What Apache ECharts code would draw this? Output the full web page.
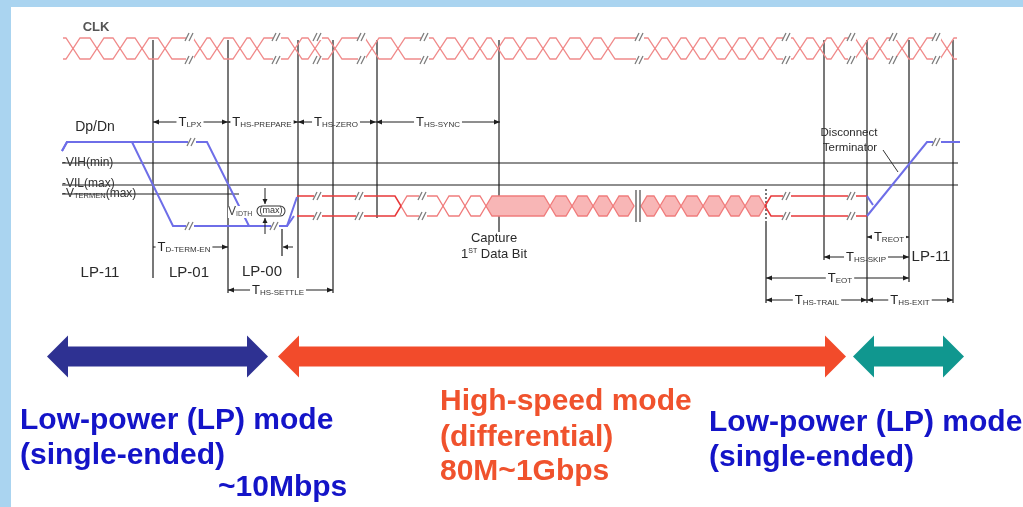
<!DOCTYPE html>
<html><head><meta charset="utf-8">
<script src="https://cdn.jsdelivr.net/npm/echarts@6/dist/echarts.min.js"></script>
<style>html,body{margin:0;padding:0;background:#aad4f0;overflow:hidden}#c{width:1023px;height:507px}</style>
</head><body><div id="c"></div>
<script>
// ---------------- data (diagram coordinates) ----------------
const W = 1023, H = 507;
const panel = [[11, 7, 1023, 507]];
// CLK eye pattern
const clkLevels = [38, 59];
const clkSpan = [63, 957];
const clkCrossings = [73, 97, 120, 142, 165, 200, 217, 240, 257, 295, 315, 335, 372, 398, 440, 462, 480, 498, 520, 543, 563, 587, 608, 655, 674, 693, 712, 732, 752, 770, 800, 820, 838, 862, 880, 902, 920, 947];
const clkBreaks = [190, 277, 318, 362, 425, 640, 787, 852, 894, 937];
// threshold lines [x1, x2, y]
const levels = [[62, 958, 163], [62, 958, 185], [62, 239, 194]];
const levelLabels = [[62, 163, '-VIH(min)', '', ''], [62, 184, '-VIL(max)', '', ''], [62, 194, '-V', 'TERMEN', '(max)']];
// vertical marker lines [x, y1, y2]
const vLines = [[153, 40, 278], [228, 40, 293], [298, 40, 278], [333, 40, 293], [377, 40, 218], [499, 40, 232], [824, 40, 260], [867, 40, 303], [909, 40, 282], [953, 40, 303], [766, 222, 303], [282, 229, 256]];
const vDotted = [[766, 189, 222]];
// HS differential lines
const hsLevels = [196, 216];
const hsSolid = [
  [[297, 196], [395, 196], [401, 206]],
  [[297, 216], [395, 216], [401, 206]],
  [[765, 206], [771, 196], [867, 196]],
  [[765, 206], [771, 216], [867, 216]]
];
const hsOpenEyes = [[401, 443], [443, 465], [465, 486]];
const hsFilledEyes = [[486, 550], [550, 572], [572, 593], [593, 613], [613, 634], [641, 660], [660, 681], [681, 703], [703, 725], [725, 745], [745, 765]];
const hsGap = [[636, 190, 222], [640, 190, 222]];
// Dp/Dn single-ended paths
const dpdn = [
  [[62, 151], [67, 142], [132, 142], [173, 226], [287, 226], [297, 197]],
  [[62, 151], [67, 142], [207, 142], [249, 226], [287, 226], [294, 216]],
  [[867, 196], [873, 205]],
  [[867, 216], [927, 142], [960, 142]]
];
// "//" break marks [x, y]
const breakMarks = [
  [192, 142], [190, 226], [275, 226], [937, 142],
  [318, 196], [318, 216], [360, 196], [360, 216], [423, 196], [423, 216],
  [787, 196], [787, 216], [852, 196], [852, 216]
];
// timing dimensions [x1, x2, y, labelX, subscript]
const timings = [
  [153, 228, 122, 190, 'LPX'],
  [228, 298, 122, 262, 'HS-PREPARE'],
  [298, 376, 122, 336, 'HS-ZERO'],
  [376, 500, 122, 438, 'HS-SYNC'],
  [153, 228, 247, 184, 'D-TERM-EN'],
  [228, 333, 290, 278, 'HS-SETTLE'],
  [867, 909, 237, 889, 'REOT'],
  [824, 909, 257, 866, 'HS-SKIP'],
  [766, 909, 278, 840, 'EOT'],
  [766, 867, 300, 817, 'HS-TRAIL'],
  [867, 953, 300, 910, 'HS-EXIT']
];
const oneSidedTimings = ['D-TERM-EN'];
const smallArrows = [[265, 188, 204], [265, 234, 218], [293, 247, 283]];
// labels [text, x, y]
const diagramLabels = [['CLK', 96, 27], ['Dp/Dn', 95, 127], ['LP-11', 100, 273], ['LP-01', 189, 273], ['LP-00', 262, 272], ['LP-11', 931, 257], ['Capture', 494, 238], ['Disconnect', 849, 133], ['Terminator', 850, 148]];
const captureLabel = [[494, 254, '1', 'ST', ' Data Bit']];
const vidthLabel = [[228, 212, 'V', 'IDTH', '(max)', 271]];
const leader = [[[883, 150], [898, 172]]];
// mode arrows [x1, x2, y]
const modeArrows = [[47, 268, 356.5], [278, 846, 356.5], [853, 964, 356.5]];
// mode text [text, x, baseline, group]
const modeText = [
  ['Low-power (LP) mode', 20, 430, 0], ['(single-ended)', 20, 465, 0], ['~10Mbps', 218, 497, 0],
  ['High-speed mode', 440, 411, 1], ['(differential)', 440, 447, 1], ['80M~1Gbps', 440, 481, 1],
  ['Low-power (LP) mode', 709, 432, 2], ['(single-ended)', 709, 467, 2]
];

// ---------------- styles ----------------
const FONT = "'Liberation Sans', Arial, sans-serif";
const modeColors = ['#2e3192', '#f24b2b', '#10978f'];
const modeTextColors = ['#1414c8', '#f0522d', '#1414c8'];
const C_LINE = '#1e1e1e', C_BLUE = '#6e6ee8', C_CLK = '#f08a8a', C_HS = '#e8383a', C_EYE = '#f07c7c', C_FILL = '#f8b6b6', C_BRK = '#7a7a7a';

// ---------------- helpers ----------------
function eyeLines(cr, x0, x1, top, bot, h) {
  const mid = (top + bot) / 2, up = [[x0, top]], lo = [[x0, bot]];
  cr.forEach(c => { up.push([c - h, top], [c, mid], [c + h, top]); lo.push([c - h, bot], [c, mid], [c + h, bot]); });
  up.push([x1, top]); lo.push([x1, bot]);
  return [up, lo];
}
function hexPts(x1, x2, top, bot, h) {
  const mid = (top + bot) / 2;
  return [[x1, mid], [x1 + h, top], [x2 - h, top], [x2, mid], [x2 - h, bot], [x1 + h, bot]];
}
const clkPaths = eyeLines(clkCrossings, clkSpan[0], clkSpan[1], clkLevels[0], clkLevels[1], 7);
const clkBreakMarks = [];
clkBreaks.forEach(b => { clkBreakMarks.push([b, clkLevels[0] - 1]); clkBreakMarks.push([b, clkLevels[1] + 1]); });

function layer(arr, z, key, draw) {
  return {
    type: 'custom', coordinateSystem: 'cartesian2d', clip: false, silent: true, z: z,
    data: arr.map(key),
    renderItem: (params, api) => draw(arr[params.dataIndex], api)
  };
}
const first = d => [d[0], d[1]];
const firstPt = d => d[0];
const poly = (pts, api, stroke, lw, dash) => ({ type: 'polyline', shape: { points: pts.map(p => api.coord(p)) }, style: { stroke: stroke, lineWidth: lw, fill: null, lineDash: dash || null } });
const txt = (x, y, style) => ({ type: 'text', x: x, y: y, style: style });

const series = [
  layer(panel, 0, first, (d, api) => { const a = api.coord([d[0], d[1]]), b = api.coord([d[2], d[3]]); return { type: 'rect', shape: { x: a[0], y: a[1], width: b[0] - a[0], height: b[1] - a[1] }, style: { fill: '#ffffff' } }; }),
  layer(levels, 1, first, (d, api) => poly([[d[0], d[2]], [d[1], d[2]]], api, C_LINE, 1.1)),
  layer(levelLabels, 2, first, (d, api) => { const p = api.coord([d[0], d[1]]); return txt(p[0], p[1], { text: '{n|' + d[2] + '}' + (d[3] ? '{s|' + d[3] + '}{n|' + d[4] + '}' : ''), rich: { n: { font: '12px ' + FONT, fill: '#333', verticalAlign: 'bottom' }, s: { font: '7.5px ' + FONT, fill: '#333', verticalAlign: 'bottom' } }, align: 'left', verticalAlign: 'middle' }); }),
  layer(timings, 3, first, (d, api) => {
    const a = api.coord([d[0], d[2]]), b = api.coord([d[1], d[2]]), t = api.coord([d[3], d[2]]), y = a[1];
    const kids = [
      { type: 'line', shape: { x1: a[0], y1: y, x2: b[0], y2: y }, style: { stroke: C_LINE, lineWidth: 1 } },
      { type: 'polygon', shape: { points: [[b[0], y], [b[0] - 6, y - 2.5], [b[0] - 6, y + 2.5]] }, style: { fill: C_LINE } },
      txt(t[0], y, { text: '{t|T}{s|' + d[4] + '}', rich: { t: { font: '13px ' + FONT, fill: '#222', verticalAlign: 'bottom' }, s: { font: '8px ' + FONT, fill: '#333', verticalAlign: 'bottom' } }, align: 'center', verticalAlign: 'middle', backgroundColor: '#fff', padding: [0, 2] })
    ];
    if (oneSidedTimings.indexOf(d[4]) < 0) kids.splice(1, 0, { type: 'polygon', shape: { points: [[a[0], y], [a[0] + 6, y - 2.5], [a[0] + 6, y + 2.5]] }, style: { fill: C_LINE } });
    return { type: 'group', children: kids };
  }),
  layer(vLines, 4, first, (d, api) => poly([[d[0], d[1]], [d[0], d[2]]], api, C_LINE, 1.2)),
  layer(vDotted, 4, first, (d, api) => poly([[d[0], d[1]], [d[0], d[2]]], api, C_LINE, 1.2, [2, 2])),
  layer(clkPaths, 5, firstPt, (d, api) => poly(d, api, C_CLK, 1.3)),
  layer(hsFilledEyes, 5, first, (d, api) => ({ type: 'polygon', shape: { points: hexPts(d[0], d[1], hsLevels[0], hsLevels[1], 6).map(p => api.coord(p)) }, style: { fill: C_FILL, stroke: C_EYE, lineWidth: 1.3 } })),
  layer(hsOpenEyes, 5, first, (d, api) => ({ type: 'polygon', shape: { points: hexPts(d[0], d[1], hsLevels[0], hsLevels[1], 6).map(p => api.coord(p)) }, style: { fill: null, stroke: C_EYE, lineWidth: 1.3 } })),
  layer(hsSolid, 5, firstPt, (d, api) => poly(d, api, C_HS, 1.5)),
  layer(dpdn, 6, firstPt, (d, api) => poly(d, api, C_BLUE, 2)),
  layer(hsGap, 7, first, (d, api) => poly([[d[0], d[1]], [d[0], d[2]]], api, '#555', 1.3)),
  layer(breakMarks.concat(clkBreakMarks), 7, first, (d, api) => {
    const c = api.coord([d[0], d[1]]);
    return { type: 'group', children: [
      { type: 'rect', shape: { x: c[0] - 4, y: c[1] - 3, width: 8, height: 6 }, style: { fill: '#fff' } },
      { type: 'line', shape: { x1: c[0] - 5, y1: c[1] + 4, x2: c[0] - 1, y2: c[1] - 4 }, style: { stroke: C_BRK, lineWidth: 1.2 } },
      { type: 'line', shape: { x1: c[0] - 1, y1: c[1] + 4, x2: c[0] + 3, y2: c[1] - 4 }, style: { stroke: C_BRK, lineWidth: 1.2 } }
    ] };
  }),
  layer(smallArrows, 8, first, (d, api) => {
    const vertical = d[0] === 265;
    const a = api.coord([d[0], d[1]]);
    const b = vertical ? api.coord([d[0], d[2]]) : api.coord([d[2], d[1]]);
    const dx = Math.sign(b[0] - a[0]), dy = Math.sign(b[1] - a[1]);
    const head = dx ? [[b[0], b[1]], [b[0] - dx * 5, b[1] - 2.5], [b[0] - dx * 5, b[1] + 2.5]] : [[b[0], b[1]], [b[0] - 2.5, b[1] - dy * 5], [b[0] + 2.5, b[1] - dy * 5]];
    return { type: 'group', children: [
      { type: 'line', shape: { x1: a[0], y1: a[1], x2: b[0], y2: b[1] }, style: { stroke: C_LINE, lineWidth: 1 } },
      { type: 'polygon', shape: { points: head }, style: { fill: C_LINE } }
    ] };
  }),
  layer(leader, 8, firstPt, (d, api) => poly(d, api, '#333', 1)),
  layer(vidthLabel, 9, first, (d, api) => {
    const p = api.coord([d[0], d[1]]), q = api.coord([d[5], d[1]]);
    return { type: 'group', children: [
      txt(p[0], p[1], { text: '{n|' + d[2] + '}{s|' + d[3] + '}', rich: { n: { font: '12px ' + FONT, fill: '#444', verticalAlign: 'bottom' }, s: { font: '7px ' + FONT, fill: '#444', verticalAlign: 'bottom' } }, align: 'left', verticalAlign: 'middle', backgroundColor: '#fff' }),
      txt(q[0], q[1] - 1, { text: d[4], font: '9px ' + FONT, fill: '#333', align: 'center', verticalAlign: 'middle', backgroundColor: '#fff', borderColor: '#333', borderWidth: 1, borderRadius: 5, padding: [0, 2] })
    ] };
  }),
  layer(diagramLabels, 9, d => [d[1], d[2]], (d, api) => {
    const p = api.coord([d[1], d[2]]);
    const f = d[0] === 'CLK' ? 'bold 13px ' : (d[0] === 'Dp/Dn' ? '14px ' : (d[0].indexOf('LP') === 0 ? '15px ' : (d[0] === 'Capture' ? '13px ' : '11.5px ')));
    return txt(p[0], p[1], { text: d[0], font: f + FONT, fill: d[0] === 'CLK' ? '#555' : '#2a2a2a', align: 'center', verticalAlign: 'middle' });
  }),
  layer(captureLabel, 9, first, (d, api) => { const p = api.coord([d[0], d[1]]); return txt(p[0], p[1], { text: '{n|' + d[2] + '}{s|' + d[3] + '}{n|' + d[4] + '}', rich: { n: { font: '13px ' + FONT, fill: '#2a2a2a', verticalAlign: 'bottom' }, s: { font: '7px ' + FONT, fill: '#2a2a2a', verticalAlign: 'top' } }, align: 'center', verticalAlign: 'middle' }); }),
  layer(modeArrows, 10, d => [d[0], d[2]], (d, api) => {
    const a = api.coord([d[0], d[2]]), b = api.coord([d[1], d[2]]), y = a[1], hl = 21, sh = 10, hh = 21;
    const pts = [[a[0], y], [a[0] + hl, y - hh], [a[0] + hl, y - sh], [b[0] - hl, y - sh], [b[0] - hl, y - hh], [b[0], y], [b[0] - hl, y + hh], [b[0] - hl, y + sh], [a[0] + hl, y + sh], [a[0] + hl, y + hh]];
    return { type: 'polygon', shape: { points: pts }, style: { fill: modeColors[modeArrows.indexOf(d)] } };
  }),
  layer(modeText, 10, d => [d[1], d[2]], (d, api) => { const p = api.coord([d[1], d[2]]); return txt(p[0], p[1] + 6, { text: d[0], font: 'bold 30px ' + FONT, fill: modeTextColors[d[3]], align: 'left', verticalAlign: 'bottom' }); })
];

const chart = echarts.init(document.getElementById('c'), null, { renderer: 'canvas' });
chart.setOption({
  animation: false,
  backgroundColor: 'transparent',
  grid: { left: 0, right: 0, top: 0, bottom: 0 },
  xAxis: { type: 'value', min: 0, max: W, show: false },
  yAxis: { type: 'value', min: 0, max: H, inverse: true, show: false },
  series: series
});
</script></body></html>
